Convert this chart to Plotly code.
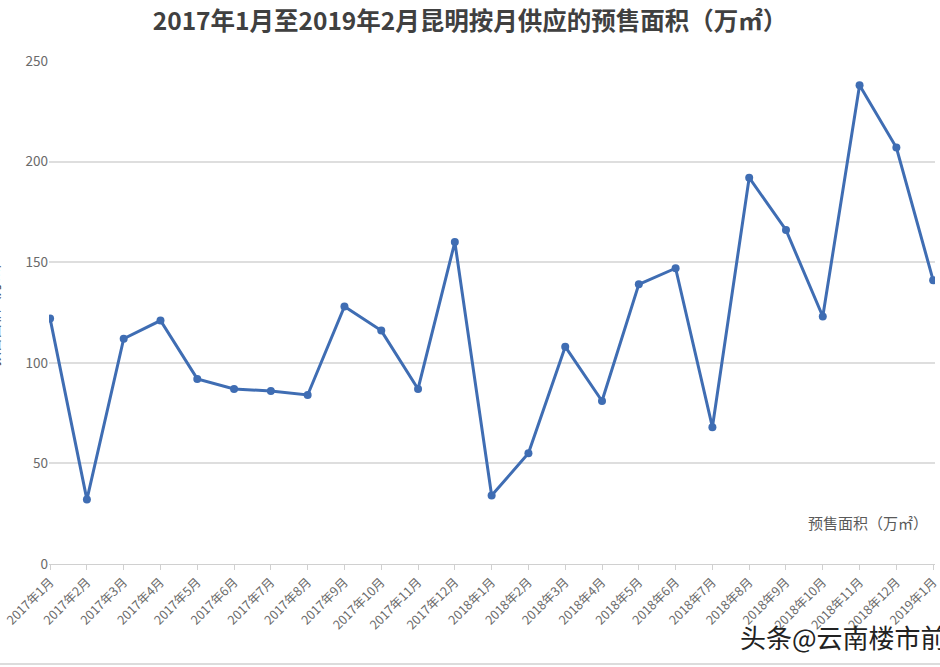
import plotly.graph_objects as go

months = ["2017年1月", "2017年2月", "2017年3月", "2017年4月", "2017年5月", "2017年6月",
          "2017年7月", "2017年8月", "2017年9月", "2017年10月", "2017年11月", "2017年12月",
          "2018年1月", "2018年2月", "2018年3月", "2018年4月", "2018年5月", "2018年6月",
          "2018年7月", "2018年8月", "2018年9月", "2018年10月", "2018年11月", "2018年12月",
          "2019年1月"]
presale_area = [122, 32, 112, 121, 92, 87, 86, 84, 128, 116, 87, 160,
                34, 55, 108, 81, 139, 147, 68, 192, 166, 123, 238, 207, 141]
y_ticks = [0, 50, 100, 150, 200, 250]

title_text = "2017年1月至2019年2月昆明按月供应的预售面积（万㎡）"
series_name = "预售面积（万㎡）"
watermark = "头条@云南楼市前沿"

xs = list(range(len(months)))
FONT = "Noto Sans CJK SC, Noto Sans, sans-serif"

W, H = 940, 667
L, R, T, B = 49, 0, 61, 103
PW, PH = W - L - R, H - T - B


def px(x):
    return (x - L) / PW


def py(y):
    return (H - B - y) / PH


fig = go.Figure()
fig.add_trace(go.Scatter(
    x=xs, y=presale_area, mode="lines+markers", name=series_name,
    line=dict(color="#3f6db3", width=3),
    marker=dict(color="#3f6db3", size=8, symbol="circle"),
    showlegend=False, hoverinfo="skip",
))

fig.update_layout(
    width=W, height=H,
    margin=dict(l=L, r=R, t=T, b=B),
    paper_bgcolor="white", plot_bgcolor="white",
    font=dict(family=FONT, color="#595959"),
    title=dict(text=title_text, x=0.5, xanchor="center", xref="container",
               y=1 - 21 / H, yanchor="middle",
               font=dict(size=24.5, color="#404040", family="Noto Sans CJK SC, sans-serif", weight="bold")),
    xaxis=dict(
        range=[-0.03, 24.05],
        tickmode="array", tickvals=xs, ticktext=months,
        tickangle=-45, tickfont=dict(size=12.5, color="#6a6a6a"),
        ticklabeloverflow="allow",
        showgrid=False, zeroline=False,
        showline=True, linecolor="#d0d0d0", linewidth=1,
        ticks="outside", ticklen=5, tickcolor="#d0d0d0",
    ),
    yaxis=dict(
        range=[0, 250], tickvals=y_ticks,
        tickfont=dict(size=13.5, color="#6a6a6a"),
        showgrid=True, gridcolor="#dedede", gridwidth=1.5,
        zeroline=False, showline=False, ticks="", ticklen=0,
    ),
)

fig.add_annotation(
    text=series_name, xref="paper", yref="paper",
    x=px(810), y=py(522),
    xanchor="left", yanchor="middle", showarrow=False,
    font=dict(size=15, color="#595959"),
)

fig.add_annotation(
    text=series_name, xref="paper", yref="paper", textangle=-90,
    x=px(5), y=py(310),
    xanchor="right", yanchor="middle", showarrow=False,
    font=dict(size=14, color="#404040"),
)

fig.add_annotation(
    text=watermark, xref="paper", yref="paper",
    x=px(742), y=py(636),
    xanchor="left", yanchor="middle", showarrow=False,
    font=dict(size=26, color="#222222"),
)

fig.add_shape(type="line", xref="paper", yref="paper",
              x0=-0.1, x1=1.1, y0=py(664), y1=py(664),
              line=dict(color="#dcdcdc", width=2))

fig.write_html("out.html", config={"displayModeBar": False},
               post_script="document.body.style.margin='0px';")
